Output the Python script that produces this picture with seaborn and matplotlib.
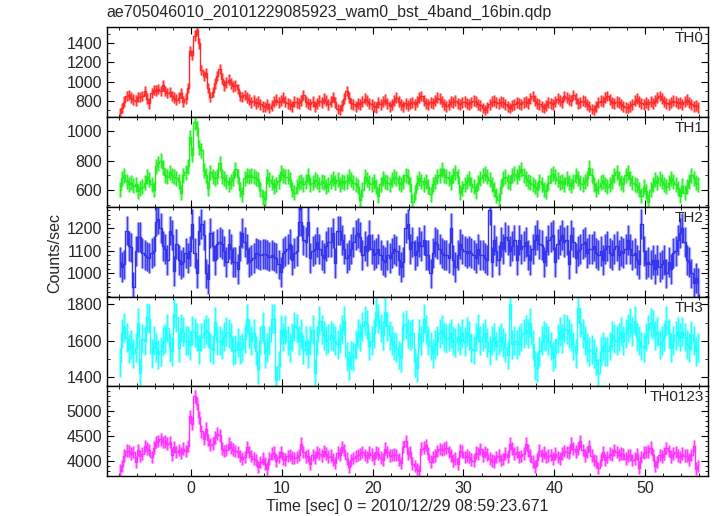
import numpy as np
import pandas as pd
import matplotlib
matplotlib.use("Agg")
import matplotlib.pyplot as plt
import seaborn as sns
from matplotlib.ticker import MultipleLocator, FixedLocator

# light curve bins: 0.25 s from -8 s
bin_start = -8.0
bin_width = 0.25

th0 = [
    670, 720, 790, 850, 860, 830, 810, 800, 840, 835, 850, 900, 820, 770, 880, 910,
    905, 920, 900, 960, 900, 880, 890, 850, 830, 810, 830, 880, 790, 820, 930, 1320,
    1280, 1480, 1540, 1400, 1120, 1060, 1090, 930, 840, 890, 980, 1060, 1130, 1030, 960, 990,
    1020, 980, 950, 960, 920, 850, 840, 860, 830, 810, 780, 800, 770, 790, 760, 740,
    735, 760, 720, 750, 790, 810, 780, 800, 830, 790, 770, 760, 740, 790, 780, 770,
    800, 860, 790, 770, 760, 790, 740, 770, 800, 780, 820, 800, 760, 790, 840, 780,
    710, 700, 750, 820, 900, 830, 770, 760, 740, 770, 760, 790, 820, 800, 770, 760,
    740, 730, 780, 760, 790, 810, 770, 740, 760, 800, 830, 790, 760, 740, 770, 750,
    770, 780, 760, 790, 830, 850, 800, 770, 760, 780, 770, 800, 830, 820, 790, 760,
    740, 760, 790, 780, 800, 770, 760, 780, 790, 770, 760, 780, 800, 790, 760, 750,
    720, 700, 730, 760, 790, 800, 780, 770, 790, 780, 760, 740, 720, 750, 760, 780,
    770, 760, 780, 790, 770, 820, 850, 800, 770, 760, 740, 720, 750, 780, 770, 760,
    790, 820, 800, 780, 850, 830, 810, 800, 860, 820, 770, 780, 800, 790, 760, 740,
    710, 700, 740, 780, 800, 790, 830, 850, 810, 780, 770, 790, 780, 760, 740, 730,
    720, 740, 760, 800, 820, 790, 770, 760, 780, 760, 790, 770, 800, 830, 850, 820,
    790, 770, 760, 780, 800, 790, 770, 780, 760, 790, 810, 780, 760, 740, 750, 730,
]

th1 = [
    600, 680, 700, 660, 640, 650, 630, 640, 590, 610, 620, 650, 690, 670, 640, 600,
    760, 780, 800, 750, 700, 690, 720, 700, 690, 680, 660, 580, 700, 720, 760, 960,
    840, 1060, 1020, 890, 870, 730, 700, 610, 720, 690, 680, 690, 780, 690, 680, 660,
    640, 660, 680, 740, 690, 600, 570, 680, 700, 690, 700, 690, 680, 670, 600, 550,
    540, 690, 670, 650, 620, 640, 660, 720, 700, 690, 690, 670, 600, 580, 620, 650,
    660, 640, 660, 700, 640, 650, 670, 660, 640, 660, 650, 620, 640, 660, 680, 650,
    670, 640, 660, 650, 660, 690, 670, 650, 640, 620, 530, 600, 690, 670, 650, 640,
    660, 620, 560, 640, 680, 660, 650, 640, 670, 690, 680, 650, 640, 660, 700, 690,
    640, 520, 580, 650, 680, 660, 640, 660, 620, 570, 640, 660, 690, 700, 740, 700,
    690, 680, 650, 700, 720, 690, 580, 610, 640, 660, 680, 640, 620, 590, 650, 680,
    700, 710, 690, 670, 640, 600, 560, 530, 620, 680, 690, 660, 650, 700, 710, 690,
    720, 740, 700, 680, 660, 650, 640, 620, 600, 660, 640, 600, 590, 650, 700, 710,
    690, 670, 650, 660, 640, 680, 650, 630, 660, 700, 680, 650, 640, 660, 680, 750,
    700, 640, 600, 620, 650, 660, 640, 620, 640, 660, 700, 720, 680, 650, 640, 700,
    720, 680, 650, 640, 630, 600, 560, 620, 590, 520, 600, 640, 670, 650, 680, 660,
    640, 620, 650, 680, 660, 640, 610, 560, 630, 580, 620, 660, 700, 680, 650, 640,
]

th2 = [
    1050, 1030, 1040, 1190, 1120, 1115, 940, 1100, 1160, 1160, 1090, 1080, 1075, 1070, 1090, 1100,
    1230, 1240, 1200, 1120, 1110, 1060, 1190, 1170, 1010, 1130, 1060, 1040, 1050, 1090, 1070, 1100,
    1220, 1090, 1000, 1190, 1220, 1170, 1000, 975, 1180, 1120, 1060, 1130, 1140, 1130, 1100, 1050,
    1130, 1110, 1050, 1050, 1020, 1120, 1180, 1140, 1110, 1050, 1060, 1070, 1090, 1085, 1080, 1085,
    1085, 1080, 1075, 1080, 1075, 1070, 1040, 1005, 1090, 1100, 1110, 1130, 1060, 1090, 1100, 1230,
    1230, 1150, 1140, 1230, 1070, 1100, 1110, 1140, 1110, 1080, 1070, 1120, 1140, 1140, 1180, 1045,
    1190, 1190, 1150, 1110, 1070, 1080, 1110, 1140, 1170, 1180, 1160, 1080, 1120, 1100, 1170, 1110,
    1080, 1090, 1110, 1080, 1060, 1050, 1080, 1070, 1090, 1110, 1100, 1060, 1030, 1050, 1200, 1220,
    1110, 1140, 1080, 1100, 1140, 1120, 1150, 1080, 1080, 1000, 1090, 1140, 1130, 1110, 1090, 1080,
    1080, 1070, 1200, 1060, 1030, 1080, 1130, 1110, 1100, 1090, 1100, 1090, 1080, 1070, 1110, 1080,
    1080, 1070, 1060, 1280, 1050, 1150, 1100, 1060, 1140, 1110, 1160, 1150, 1100, 1120, 1150, 1060,
    1150, 1110, 1120, 1140, 1080, 1060, 1110, 1150, 1170, 1130, 1125, 1050, 1100, 1150, 1160, 1170,
    1050, 1130, 1150, 1170, 1140, 1150, 1040, 1170, 1140, 1070, 1100, 1110, 1130, 1140, 1090, 1110,
    1110, 1120, 1090, 1080, 1100, 1060, 1110, 1120, 1090, 1080, 1110, 1120, 1080, 1100, 1090, 1110,
    1150, 1110, 1080, 1090, 1060, 1040, 1220, 1100, 1040, 1050, 1040, 1060, 1020, 1060, 1030, 1040,
    1060, 1000, 1050, 1020, 1090, 1100, 1150, 1180, 1200, 1140, 1060, 1050, 1000, 960, 980, 960,
]

th3 = [
    1480, 1640, 1675, 1615, 1555, 1580, 1530, 1560, 1700, 1420, 1610, 1600, 1730, 1720, 1530, 1600,
    1560, 1525, 1540, 1600, 1610, 1670, 1560, 1540, 1750, 1730, 1560, 1670, 1650, 1600, 1600, 1575,
    1655, 1645, 1620, 1550, 1620, 1640, 1660, 1645, 1560, 1550, 1705, 1600, 1600, 1580, 1625, 1650,
    1640, 1620, 1545, 1550, 1590, 1550, 1560, 1610, 1720, 1640, 1600, 1640, 1545, 1440, 1600, 1680,
    1530, 1560, 1600, 1720, 1720, 1380, 1460, 1660, 1620, 1660, 1600, 1560, 1620, 1680, 1670, 1600,
    1640, 1550, 1600, 1530, 1600, 1660, 1420, 1600, 1710, 1660, 1630, 1600, 1610, 1630, 1620, 1600,
    1580, 1610, 1660, 1710, 1510, 1460, 1520, 1510, 1580, 1640, 1620, 1680, 1710, 1690, 1570, 1600,
    1640, 1760, 1720, 1670, 1630, 1760, 1680, 1630, 1600, 1570, 1560, 1520, 1505, 1680, 1690, 1640,
    1630, 1640, 1480, 1450, 1640, 1600, 1720, 1660, 1600, 1570, 1530, 1580, 1600, 1640, 1660, 1625,
    1610, 1620, 1640, 1600, 1590, 1620, 1600, 1640, 1595, 1650, 1630, 1560, 1550, 1620, 1670, 1600,
    1620, 1640, 1590, 1545, 1600, 1620, 1570, 1600, 1620, 1590, 1560, 1520, 1800, 1580, 1600, 1580,
    1600, 1620, 1640, 1660, 1640, 1700, 1580, 1460, 1450, 1540, 1600, 1630, 1620, 1600, 1570, 1510,
    1530, 1610, 1650, 1610, 1670, 1660, 1640, 1620, 1570, 1530, 1780, 1700, 1640, 1600, 1560, 1540,
    1550, 1530, 1490, 1420, 1540, 1570, 1540, 1540, 1570, 1630, 1610, 1600, 1620, 1650, 1600, 1640,
    1670, 1700, 1650, 1710, 1620, 1600, 1570, 1560, 1620, 1660, 1700, 1690, 1630, 1650, 1580, 1600,
    1620, 1710, 1640, 1560, 1600, 1630, 1650, 1620, 1650, 1620, 1580, 1560, 1630, 1600, 1540, 1560,
]

th0123 = [
    3810, 3900, 4110, 4210, 4200, 4150, 4180, 3980, 4220, 4100, 4150, 4300, 4250, 4220, 4080, 4270,
    4380, 4400, 4440, 4380, 4390, 4350, 4380, 4130, 4280, 4180, 4220, 4160, 4250, 4200, 4300, 4900,
    4750, 5300, 5150, 4880, 4600, 4450, 4650, 4420, 4330, 4350, 4480, 4550, 4520, 4250, 4200, 4220,
    4350, 4270, 4230, 4200, 4180, 4100, 4050, 4080, 4280, 4180, 4100, 4050, 4020, 3880, 3980, 4050,
    3950, 3850, 4050, 4150, 4170, 4010, 4080, 4180, 4050, 4030, 4100, 4120, 4070, 4060, 4080, 4120,
    4350, 4180, 4090, 4110, 3950, 4120, 4070, 4180, 4140, 4110, 4200, 4150, 4090, 4110, 4030, 3960,
    4170, 4130, 4280, 4220, 4050, 3880, 4020, 4060, 4100, 4120, 4140, 4180, 4120, 4080, 4170, 4130,
    4050, 4180, 4150, 4070, 4030, 4250, 4180, 4110, 4120, 4130, 4120, 4030, 3960, 4280, 4400, 4150,
    4180, 3950, 3900, 3840, 3800, 4250, 4270, 4320, 4150, 3990, 4080, 4110, 4200, 4240, 4220, 4250,
    4270, 4180, 4110, 4010, 4050, 3950, 4210, 4190, 4080, 4110, 4080, 4030, 4010, 4170, 4150, 4240,
    4110, 4180, 4130, 4050, 4010, 3990, 4080, 4110, 4020, 4040, 4150, 4090, 4350, 4250, 4150, 4180,
    4080, 4100, 4150, 4350, 4210, 4110, 3990, 3890, 4030, 4210, 4110, 4170, 4080, 4110, 4120, 4050,
    4150, 4080, 4050, 4150, 4200, 4180, 4170, 4350, 4250, 4190, 4250, 4400, 4220, 4110, 4180, 4300,
    4110, 4020, 3990, 3860, 4030, 4180, 4020, 4080, 4150, 4120, 4220, 4180, 4120, 4150, 4140, 4050,
    4110, 4120, 4020, 4050, 4140, 3870, 4080, 4170, 4180, 4190, 4270, 4120, 3900, 3980, 4120, 4090,
    4150, 4260, 4200, 4090, 4150, 4180, 4110, 4080, 4150, 4110, 4110, 4030, 4120, 4300, 3850, 3900,
]

bands = ["TH0", "TH1", "TH2", "TH3", "TH0123"]
rates = [th0, th1, th2, th3, th0123]
errors = [55, 51, 66, 80, 128]          # typical 1-sigma per bin
colors = ["#ff2a2a", "#22ee22", "#3333ee", "#22ffff", "#ff33ff"]
ylims = [(627, 1568), (485, 1096), (898, 1295), (1347, 1844), (3700, 5500)]
major_ticks = [[800, 1000, 1200, 1400], [600, 800, 1000], [1000, 1100, 1200],
               [1400, 1600, 1800], [4000, 4500, 5000]]
minor_steps = [100, 100, 20, 100, 100]

sns.set_style("ticks")
plt.rcParams["font.family"] = ["Liberation Sans", "DejaVu Sans"]

fig, axes = plt.subplots(5, 1, figsize=(7.17, 5.16), dpi=100, sharex=True)
fig.subplots_adjust(left=0.149, right=0.988, top=0.947, bottom=0.0775, hspace=0)

times = bin_start + bin_width * (np.arange(len(th0)) + 0.5)

for ax, band, vals, err, c, yl, mj, mn in zip(axes, bands, rates, errors, colors,
                                              ylims, major_ticks, minor_steps):
    df = pd.DataFrame({"time": times, "rate": vals})
    ax.errorbar(df["time"], df["rate"], yerr=err, fmt="none", ecolor=c,
                elinewidth=2.4, alpha=0.45, capsize=0)
    ax.errorbar(df["time"], df["rate"], yerr=err, fmt="none", ecolor=c,
                elinewidth=0.7, alpha=0.9, capsize=0)
    sns.lineplot(data=df, x="time", y="rate", ax=ax, color=c, lw=1.0,
                 drawstyle="steps-mid", errorbar=None)
    ax.set_ylim(*yl)
    ax.set_xlim(-9.3, 57.0)
    ax.yaxis.set_major_locator(FixedLocator(mj))
    ax.yaxis.set_minor_locator(MultipleLocator(mn))
    ax.xaxis.set_major_locator(MultipleLocator(10))
    ax.xaxis.set_minor_locator(MultipleLocator(2))
    ax.tick_params(which="both", direction="in", top=True, right=True,
                   labelsize=11.5, color="black")
    ax.tick_params(which="major", length=5)
    ax.tick_params(which="minor", length=2.5)
    for sp in ax.spines.values():
        sp.set_color("black")
        sp.set_linewidth(1.0)
    ax.set_ylabel("")
    ax.set_xlabel("")
    ax.text(0.992, 0.955, band, transform=ax.transAxes, ha="right", va="top",
            fontsize=11)

axes[-1].set_xlabel("Time [sec] 0 = 2010/12/29 08:59:23.671", fontsize=11.5, labelpad=2)
fig.text(0.077, 0.51, "Counts/sec", rotation=90, ha="center", va="center", fontsize=11.5)
fig.text(0.149, 1 - 12 / 516, "ae705046010_20101229085923_wam0_bst_4band_16bin.qdp",
         ha="left", va="center", fontsize=11.5)

fig.savefig("out.png", dpi=100)
